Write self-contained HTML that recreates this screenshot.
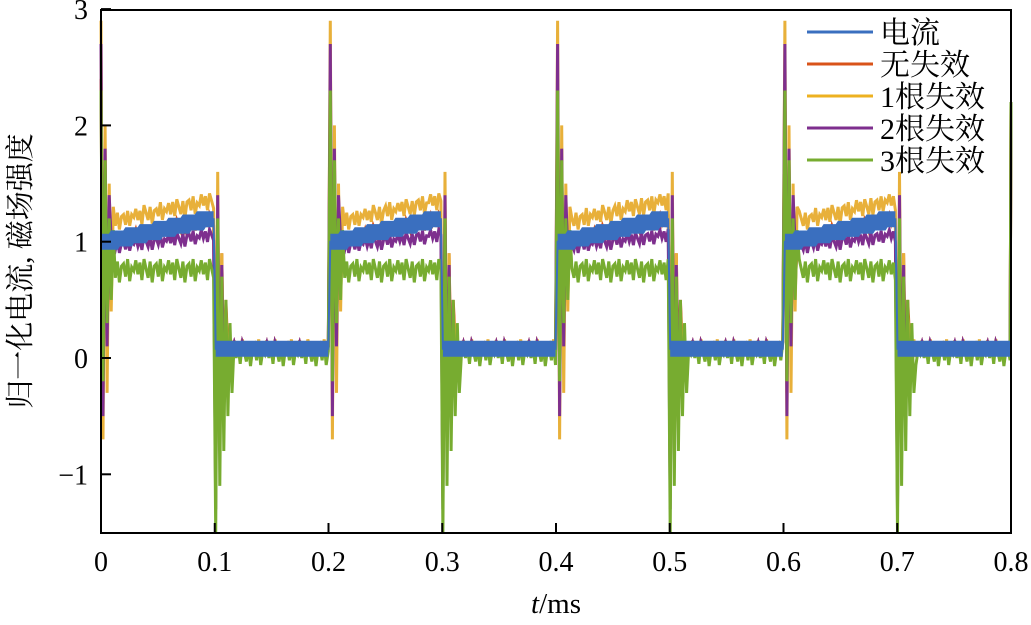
<!DOCTYPE html>
<html><head><meta charset="utf-8"><style>
body{margin:0;background:#fff;}
svg text{font-family:"Liberation Serif","Noto Serif CJK SC",serif;fill:#000;}
</style></head><body>
<svg id="chart" width="1031" height="620" viewBox="0 0 1031 620" xmlns="http://www.w3.org/2000/svg">
<g id="series"></g>
<rect x="101" y="10" width="910" height="523" fill="none" stroke="#000" stroke-width="2"/>
<g id="axes"></g>
<text transform="translate(30,271) rotate(-90)" text-anchor="middle" font-size="29">归一化电流, 磁场强度</text>
<text x="556" y="613" text-anchor="middle" font-size="29"><tspan font-style="italic">t</tspan>/ms</text>
<g id="legend"></g>
</svg>
<script>
const xTicks=[0,0.1,0.2,0.3,0.4,0.5,0.6,0.7,0.8];
const yTicks=[-1,0,1,2,3];
const seriesNames=["无失效","1根失效","2根失效","3根失效","电流"];
const seriesColors=["#d95319","#e8b03a","#7e2f8e","#77ac30","#3a6fbf"];
const legendNames=["电流","无失效","1根失效","2根失效","3根失效"];
const legendColors=["#3a6fbf","#d95319","#edb120","#7e2f8e","#77ac30"];
const hiStart=[1.0,1.16,0.95,0.75,1.0];
const hiEnd=[1.2,1.36,1.06,0.75,1.22];
const lowLevel=[0.08,0.08,0.08,0.03,0.08];
const rippleAmp=[0.06,0.08,0.06,0.1,0];
const ripple=[0,0.9,-0.3,0.7,-0.8,1,0.2,-0.6,0.8,-1,0.4,0.6,-0.5,1,-0.9,0.3];
const riseSpike=[[2.4,-0.3,1.6,0.2,1.3,0.6],[2.9,-0.7,2.0,-0.3,1.5,0.4,1.3],[2.7,-0.5,1.8,0.1,1.4],[2.3,-0.2,1.7,0.3,1.2,0.5,1.1],[]];
const fallSpike=[[-1.0,1.3,-0.6,0.9,-0.3,0.5],[-1.2,1.6,-0.8,0.9,-0.4,0.4],[-1.3,1.4,-0.7,0.8,-0.3],[-1.5,1.2,-1.1,0.7,-0.8,0.5,-0.5,0.3,-0.3],[]];
const period=0.2, tMax=0.8, dt=0.0018;
const X=t=>101+t/0.8*910;
const Y=v=>358-v*116.3;
const NS="http://www.w3.org/2000/svg";
const axes=document.getElementById('axes');
xTicks.forEach(t=>{
  const l=document.createElementNS(NS,'line');
  
  
  l.setAttribute('x1',X(t));l.setAttribute('x2',X(t));l.setAttribute('y1',533);l.setAttribute('y2',523);
  l.setAttribute('stroke','#000');l.setAttribute('stroke-width','2');axes.appendChild(l);
  const tx=document.createElementNS(NS,'text');
  
  
  tx.setAttribute('x',X(t));tx.setAttribute('y',571);tx.setAttribute('text-anchor','middle');tx.setAttribute('font-size','28');
  tx.textContent=String(t);axes.appendChild(tx);
});
yTicks.forEach(v=>{
  const l=document.createElementNS(NS,'line');
  
  
  l.setAttribute('x1',101);l.setAttribute('x2',111);l.setAttribute('y1',Y(v));l.setAttribute('y2',Y(v));
  l.setAttribute('stroke','#000');l.setAttribute('stroke-width','2');axes.appendChild(l);
  const tx=document.createElementNS(NS,'text');
  
  
  tx.setAttribute('x',88);tx.setAttribute('y',Y(v)+10);tx.setAttribute('text-anchor','end');tx.setAttribute('font-size','28');
  tx.textContent=v<0?'\u2212'+Math.abs(v):String(v);axes.appendChild(tx);
});
const sg=document.getElementById('series');
seriesNames.forEach((n,i)=>{
  const N=Math.round(tMax/dt);
  let kSince=0,lastPhase=null;
  let segs=[],cur=[];
  for(let k=0;k<=N;k++){
    const t=k*dt;
    const p=(t%period)/period;
    const high=p<0.5 && t<tMax-1e-9;
    const phase=high?'h':'l';
    if(phase!==lastPhase){kSince=0;lastPhase=phase;if(cur.length){segs.push(cur);}cur=[];}
    let v;
    if(high){v=hiStart[i]+(hiEnd[i]-hiStart[i])*Math.floor(p*2*8)/8;}
    else v=lowLevel[i];
    v+=ripple[k%ripple.length]*rippleAmp[i];
    const sp=high?riseSpike[i]:fallSpike[i];
    if(kSince<sp.length) v=sp[kSince];
    kSince++;
    cur.push([X(t),Y(v)]);
  }
  segs.push(cur);
  if(i<4){
    let all=[].concat(...segs);
    all.push([X(tMax),Y(2.2)]);
    const pl=document.createElementNS(NS,'polyline');
    
    
    pl.setAttribute('points',all.map(p=>p[0].toFixed(1)+','+p[1].toFixed(1)).join(' '));
    pl.setAttribute('fill','none');
    pl.setAttribute('stroke',seriesColors[i]);
    pl.setAttribute('stroke-width','3');
    sg.appendChild(pl);
  } else {
    let all=[].concat(...segs);
    const th=document.createElementNS(NS,'polyline');
    
    
    th.setAttribute('points',all.map(p=>p[0].toFixed(1)+','+p[1].toFixed(1)).join(' '));
    th.setAttribute('fill','none');th.setAttribute('stroke',seriesColors[i]);th.setAttribute('stroke-width','2');
    sg.appendChild(th);
    segs.forEach(s=>{
      const pl=document.createElementNS(NS,'polyline');
      
      
      pl.setAttribute('points',s.map(p=>p[0].toFixed(1)+','+p[1].toFixed(1)).join(' '));
      pl.setAttribute('fill','none');
      pl.setAttribute('stroke',seriesColors[i]);
      pl.setAttribute('stroke-width','16');
      pl.setAttribute('stroke-linecap','butt');
      sg.appendChild(pl);
    });
  }
});
const lg=document.getElementById('legend');
legendNames.forEach((n,i)=>{
  const y=32+i*32;
  const l=document.createElementNS(NS,'line');
  
  
  l.setAttribute('x1',807);l.setAttribute('x2',873);l.setAttribute('y1',y);l.setAttribute('y2',y);
  l.setAttribute('stroke',legendColors[i]);l.setAttribute('stroke-width','3');lg.appendChild(l);
  const tx=document.createElementNS(NS,'text');
  
  
  tx.setAttribute('x',880);tx.setAttribute('y',y+11);tx.setAttribute('font-size','30');
  tx.textContent=n;lg.appendChild(tx);
});
</script>
</body></html>
